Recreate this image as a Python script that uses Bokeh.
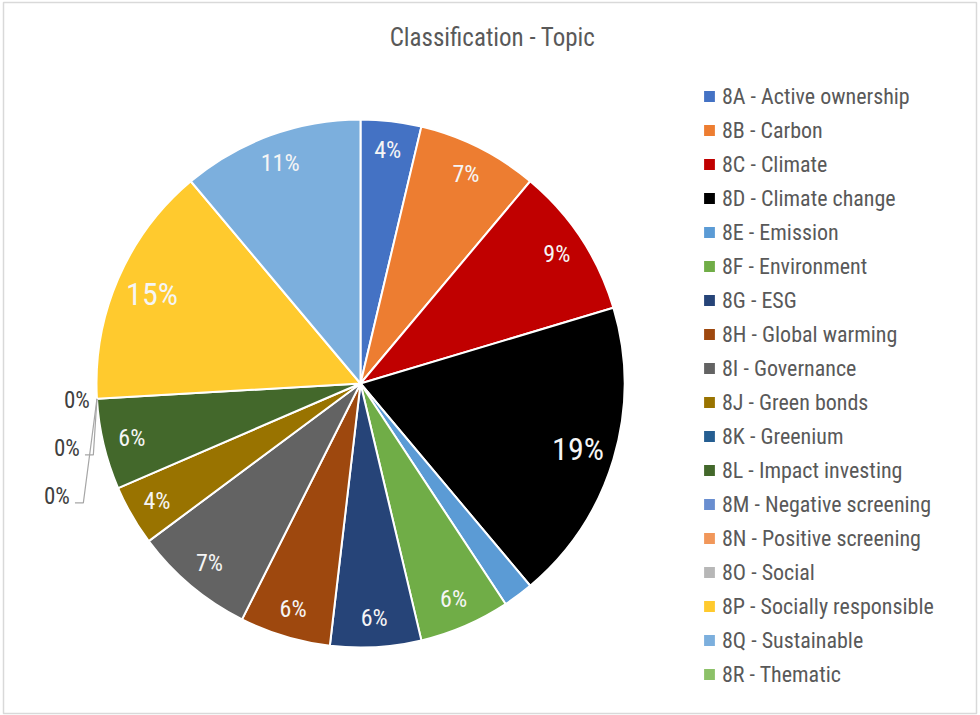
import math
from bokeh.plotting import figure
from bokeh.models import Range1d, ColumnDataSource, Legend, LegendItem, Label, Grid
from bokeh.core.properties import value
from bokeh.embed import file_html
from bokeh.resources import INLINE

# ---- data ----
codes = ["8A", "8B", "8C", "8D", "8E", "8F", "8G", "8H", "8I", "8J",
         "8K", "8L", "8M", "8N", "8O", "8P", "8Q", "8R"]
topics = ["Active ownership", "Carbon", "Climate", "Climate change", "Emission",
          "Environment", "ESG", "Global warming", "Governance", "Green bonds",
          "Greenium", "Impact investing", "Negative screening", "Positive screening",
          "Social", "Socially responsible", "Sustainable", "Thematic"]
counts = [2, 4, 5, 10, 1, 3, 3, 3, 4, 2, 0, 3, 0, 0, 0, 8, 6, 0]
hidden_labels = ["8E", "8K", "8R"]
title_text = "Classification - Topic"

colors = ["#4472C4", "#ED7D31", "#C00000", "#000000", "#5B9BD5", "#70AD47",
          "#264478", "#9E480E", "#636363", "#997300", "#255E91", "#43682B",
          "#698ED0", "#F1975A", "#B7B7B7", "#FFCA2E", "#7CAFDD", "#8CC168"]

FONT = "'Roboto Condensed', 'DejaVu Sans Condensed', sans-serif"
W, H = 980, 715

# layout (pixel-like data units, y up)
cx, cy, R = 360, H - 383, 264

total = sum(counts)
starts, ends, mids = [], [], []
acc = 0
for c in counts:
    f0 = acc / total
    acc += c
    f1 = acc / total
    starts.append(math.pi / 2 - 2 * math.pi * f0)
    ends.append(math.pi / 2 - 2 * math.pi * f1)
    mids.append(math.pi / 2 - 2 * math.pi * (f0 + f1) / 2)

legend_labels = [f"{c} - {t}" for c, t in zip(codes, topics)]
pct = [round(100 * c / total) for c in counts]
radii = [R if c > 0 else 0 for c in counts]

src = ColumnDataSource(dict(start=starts, end=ends, color=colors,
                            label=legend_labels, radius=radii))

p = figure(width=W, height=H, output_backend="svg", toolbar_location=None,
           x_axis_location=None, y_axis_location=None,
           x_range=Range1d(3, 976), y_range=Range1d(H - 713, H - 2),
           min_border_left=3, min_border_right=4, min_border_top=2, min_border_bottom=2)
for g in p.select(type=Grid):
    g.visible = False
p.outline_line_color = "#d9d9d9"
p.outline_line_width = 1.5
p.background_fill_color = "white"
p.border_fill_color = "white"

wr = p.wedge(x=cx, y=cy, radius="radius", start_angle="start", end_angle="end",
             direction="clock", fill_color="color", line_color="white",
             line_width=2, source=src)

# data labels on slices
lx, ly, lt, lfs = [], [], [], []
for i, c in enumerate(counts):
    if c == 0 or codes[i] in hidden_labels:
        continue
    big = pct[i] >= 14
    r = (0.86 if big else 0.89) * R
    lx.append(cx + r * math.cos(mids[i]))
    ly.append(cy + r * math.sin(mids[i]))
    lt.append(f"{pct[i]}%")
    lfs.append("32px" if big else "24px")
lsrc = ColumnDataSource(dict(x=lx, y=ly, text=lt, fs=lfs))
p.text(x="x", y="y", text="text", text_font_size="fs", source=lsrc,
       text_align="center", text_baseline="middle",
       text_color="#f5f5f5", text_font=value(FONT))

# zero-value labels with leader lines
zx, zy, zt = [], [], []
k = 0
for i, c in enumerate(counts):
    if c != 0 or codes[i] in hidden_labels:
        continue
    a = ends[i]
    ax = cx + R * math.cos(a)
    ay = cy + R * math.sin(a)
    tx = ax - 20 - 10 * k
    ty = ay - 2 - 48 * k
    zx.append(tx); zy.append(ty); zt.append(f"{pct[i]}%")
    if k >= 1:
        end_x = tx + 18
        corner_x = end_x + 8.4
        corner_y = ty - 6
        p.line(x=[ax, corner_x, end_x], y=[ay, corner_y, corner_y],
               line_color="#a6a6a6", line_width=1.2)
    k += 1
p.text(x=zx, y=zy, text=zt, text_font_size="23px", text_align="center",
       text_baseline="middle", text_color="#404040", text_font=value(FONT))

# title
p.add_layout(Label(x=492, y=H - 37, text=title_text, text_align="center",
                   text_baseline="middle", text_font_size="25px",
                   text_color="#595959", text_font=FONT))

# legend
items = [LegendItem(label=legend_labels[i], renderers=[wr], index=i) for i in range(len(codes))]
legend = Legend(items=items, location=(698, 22), padding=0, margin=0, spacing=0,
                label_height=34, glyph_width=16, glyph_height=16, label_standoff=5,
                label_text_font_size="22px", label_text_color="#595959",
                label_text_font=FONT, border_line_color=None,
                background_fill_alpha=0)
p.add_layout(legend, "center")

open("out.html", "w").write(file_html(p, INLINE))
